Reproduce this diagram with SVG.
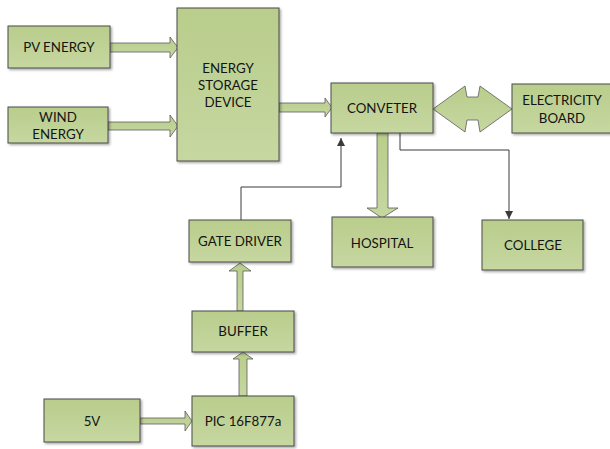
<svg xmlns="http://www.w3.org/2000/svg" width="610" height="449" viewBox="0 0 610 449">
<style>
.box{fill:url(#g);stroke:#4a4a4a;stroke-width:1;filter:url(#sh)}
.blk{fill:url(#g);stroke:#5a5a5a;stroke-width:0.8}
.t{font-family:Lato,"Liberation Sans",sans-serif;font-size:13.3px;fill:#141414;text-anchor:middle;dominant-baseline:central}
.ln{fill:none;stroke:#3a3a3a;stroke-width:1}
</style>
<defs>
<linearGradient id="g" x1="0" y1="0" x2="0" y2="1">
<stop offset="0" stop-color="#b9cd8c"/>
<stop offset="1" stop-color="#c6d7a0"/>
</linearGradient>
<filter id="sh" x="-10%" y="-10%" width="130%" height="130%">
<feDropShadow dx="1.5" dy="1.5" stdDeviation="1" flood-color="#000" flood-opacity="0.35"/>
</filter>
<marker id="ah" markerWidth="10" markerHeight="10" refX="8" refY="4" orient="auto" markerUnits="userSpaceOnUse">
<path d="M0,0 L8,4 L0,8 Z" fill="#3a3a3a"/>
</marker>
</defs>
<g id="connectors">
<polygon class="blk" points="110,43 170,43 170,37 178,47.5 170,58 170,52 110,52"/>
<polygon class="blk" points="108,122 170,122 170,115 178,126 170,137 170,130 108,130"/>
<polygon class="blk" points="279,103 325,103 325,98 332,107.5 325,117 325,112 279,112"/>
<polygon class="blk" points="433,109 465,86 467,97 478,97 480,86 512,109 480,132 478,120 467,120 465,132"/>
<polygon class="blk" points="377,133 388,133 388,208 398,208 382,218 367,208 377,208"/>
<polygon class="blk" points="237,311 237,271 229,271 240,263 251,271 243,271 243,311"/>
<polygon class="blk" points="239,396 239,359 233,359 243,352 253,359 247,359 247,396"/>
<polygon class="blk" points="140,418 185,418 185,411 192,421 185,431 185,424 140,424"/>
<path class="ln" d="M241,220 V187 H341 V138" marker-end="url(#ah)"/>
<path class="ln" d="M400,133 V150 H509 V219" marker-end="url(#ah)"/>
</g>
<g id="pv"><rect class="box" x="8" y="26" width="102" height="42"/><text class="t" x="59" y="47">PV ENERGY</text></g>
<g id="wind"><rect class="box" x="8" y="107" width="100" height="36"/><text class="t" x="58" y="117">WIND</text><text class="t" x="58" y="134">ENERGY</text></g>
<g id="storage"><rect class="box" x="177" y="8" width="102" height="153"/><text class="t" x="228" y="68">ENERGY</text><text class="t" x="228" y="85">STORAGE</text><text class="t" x="228" y="102">DEVICE</text></g>
<g id="converter"><rect class="box" x="331" y="83" width="102" height="50"/><text class="t" x="382" y="108">CONVETER</text></g>
<g id="board"><rect class="box" x="512" y="84" width="100" height="49"/><text class="t" x="562" y="100">ELECTRICITY</text><text class="t" x="562" y="118">BOARD</text></g>
<g id="hospital"><rect class="box" x="332" y="217" width="101" height="50"/><text class="t" x="382" y="243">HOSPITAL</text></g>
<g id="college"><rect class="box" x="482" y="220" width="101" height="50"/><text class="t" x="533" y="245">COLLEGE</text></g>
<g id="gate"><rect class="box" x="189" y="220" width="102" height="42"/><text class="t" x="240" y="241">GATE DRIVER</text></g>
<g id="buffer"><rect class="box" x="192" y="311" width="102" height="41"/><text class="t" x="243" y="331">BUFFER</text></g>
<g id="pic"><rect class="box" x="192" y="396" width="102" height="50"/><text class="t" x="243" y="421">PIC 16F877a</text></g>
<g id="v5"><rect class="box" x="44" y="399" width="96" height="43"/><text class="t" x="92" y="421">5V</text></g>
</svg>
